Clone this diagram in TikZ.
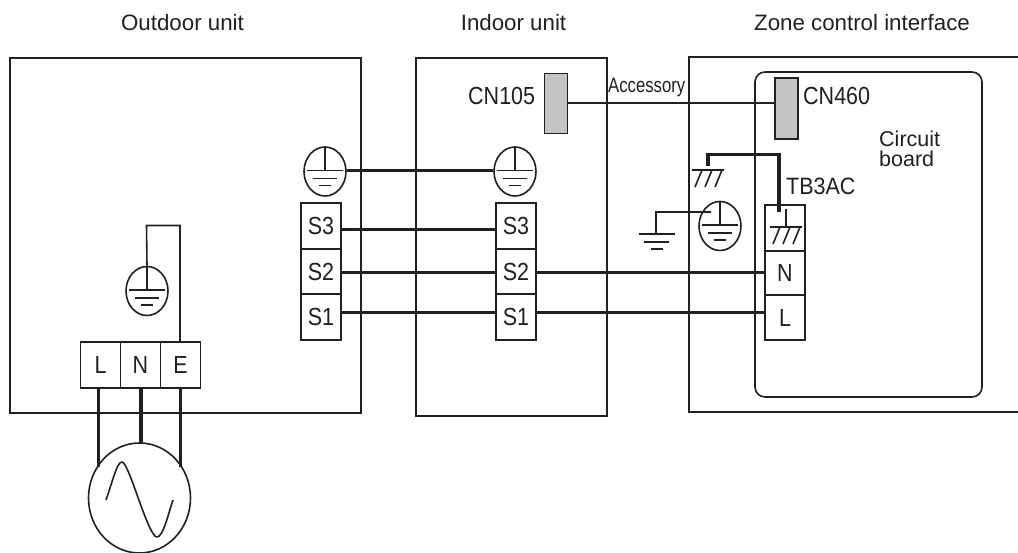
\documentclass[tikz,border=0pt]{standalone}
\usepackage{fontspec}
\setmainfont{Liberation Sans}
\usetikzlibrary{shapes.geometric}
\definecolor{ink}{HTML}{231F20}
\definecolor{plug}{HTML}{C4C4C4}
\newcommand{\tall}[1]{\scalebox{1}[1.15]{#1}}
\tikzset{
  x=1pt,y=-1pt,
  thinln/.style={draw=ink,line width=1.6pt},
  wire/.style={draw=ink,line width=3.7pt},
  unitbox/.style={draw=ink,line width=1.6pt,inner sep=0pt,fill=none,anchor=north west},
  term/.style={draw=ink,line width=1.6pt,inner sep=0pt,minimum width=40pt,text=ink,font=\fontsize{21.5}{21.5}\selectfont},
  plugbox/.style={draw=ink,line width=1.6pt,fill=plug,inner sep=0pt,minimum width=23pt,minimum height=60pt},
  earthc/.style={draw=ink,line width=1.6pt,ellipse,inner sep=0pt,minimum width=42pt,minimum height=49pt},
  lbl/.style={text=ink,inner sep=0pt,font=\fontsize{21.5}{20}\selectfont},
  title/.style={lbl,font=\fontsize{22.3}{24}\selectfont}
}
\newcommand{\earthsym}[1]{%
  \draw[thinln] (#1.north) -- ++(0,24);
  \draw[thinln] ([shift={(-18,-1)}]#1.center) -- ([shift={(18,-1)}]#1.center);
  \draw[thinln] ([shift={(-12,7)}]#1.center) -- ([shift={(12,7)}]#1.center);
  \draw[thinln] ([shift={(-6,14)}]#1.center) -- ([shift={(6,14)}]#1.center);
}
\newcommand{\chassis}[1]{%
  \draw[thinln] ([shift={(-16,0)}]#1) -- ([shift={(16,0)}]#1);
  \draw[thinln] ([shift={(-6,0)}]#1) -- ([shift={(-13,17)}]#1);
  \draw[thinln] ([shift={(4,0)}]#1) -- ([shift={(-3,17)}]#1);
  \draw[thinln] ([shift={(14,0)}]#1) -- ([shift={(7,17)}]#1);
}
\begin{document}
\begin{tikzpicture}
\useasboundingbox (0,0) rectangle (1018,553);
\begin{scope}
\clip (0,0) rectangle (1018,553);
% unit frames
\node[unitbox,minimum width=351pt,minimum height=355.5pt] (outdoor) at (9,57) {};
\node[unitbox,minimum width=191pt,minimum height=358pt] (indoor) at (415,57) {};
\draw[thinln] (1018,57) -- (689,57) -- (689,412) -- (1018,412);
\draw[thinln,rounded corners=10pt] (755,72) rectangle (982,397);
% titles
\node[title] (t1) at (182.5,22.5) {Outdoor unit};
\node[title] (t2) at (513.5,22.5) {Indoor unit};
\node[title] (t3) at (862,22.5) {Zone control interface};
% plugs
\node[plugbox] (cn105) at (556,103.5) {};
\node[plugbox,minimum height=61pt] (cn460) at (786.5,108.5) {};
\node[lbl,anchor=west] (l105) at (468,96) {\tall{CN105}};
\node[lbl,anchor=west] (l460) at (803,96) {\tall{CN460}};
\node[lbl,anchor=base west,font=\fontsize{16.7}{16}\selectfont] (acc) at (608,93) {\scalebox{1}[1.25]{Accessory}};
\node[lbl,anchor=base west] (cb1) at (879,146.5) {Circuit};
\node[lbl,anchor=base west] (cb2) at (879,166.5) {board};
\node[lbl,anchor=west] (ltb) at (786,186.5) {\scalebox{1}[1.1]{TB3AC}};
\draw[thinln] (cn105.east |- 0,103.3) -- (cn460.west |- 0,103.3);
% terminals
\node[term,minimum height=46pt] (a3) at (321,226) {\tall{S3}};
\node[term,minimum height=45pt] (a2) at (321,271.5) {\tall{S2}};
\node[term,minimum height=46pt] (a1) at (321,317) {\tall{S1}};
\node[term,minimum height=46pt] (b3) at (516,226) {\tall{S3}};
\node[term,minimum height=45pt] (b2) at (516,271.5) {\tall{S2}};
\node[term,minimum height=46pt] (b1) at (516,317) {\tall{S1}};
\node[term,minimum height=46pt] (tg) at (785,228) {};
\node[term,minimum height=44pt] (tn) at (785,273) {\tall{N}};
\node[term,minimum height=45pt] (tl) at (785,317.5) {\tall{L}};
\node[term,minimum height=46pt] (pl) at (100.5,365) {\tall{L}};
\node[term,minimum height=46pt] (pn) at (140.5,365) {\tall{N}};
\node[term,minimum height=46pt] (pe) at (180.5,365) {\tall{E}};
% earth symbols
\node[earthc] (ea) at (325,171.5) {};
\node[earthc] (eb) at (515,171.5) {};
\node[earthc] (ec) at (720,226) {};
\node[earthc] (ed) at (147,291) {};
\earthsym{ea} \earthsym{eb} \earthsym{ec} \earthsym{ed}
% thick wires
\draw[wire] ([yshift=1pt]ea.east) -- ([yshift=1pt]eb.west);
\draw[wire] ([yshift=-3.5pt]a3.east) -- ([yshift=-3.5pt]b3.west);
\draw[wire] ([yshift=-1pt]a2.east) -- ([yshift=-1pt]b2.west);
\draw[wire] ([yshift=4.5pt]a1.east) -- ([yshift=4.5pt]b1.west);
\draw[wire] ([yshift=-1pt]b2.east) -- ([yshift=0.5pt]tn.west);
\draw[wire] ([yshift=4.5pt]b1.east) -- ([yshift=5pt]tl.west);
% chassis ground with thick link
\coordinate (cg) at (708,170);
\coordinate (tgin) at (779,212);
\coordinate (tgc) at (786,227);
\draw[wire,line join=miter] (708,166) -- (708,154.5) -- (779,154.5) -- (tgin);
\chassis{cg}
\draw[thinln] (786,209) -- (tgc);
\chassis{tgc}
% protective earth to ground symbol
\coordinate (gnd) at (656,234);
\coordinate (ecin) at (711,212);
\draw[thinln] (ecin) -- (656,212) -- (gnd);
\draw[thinln] (639,234) -- (675,234);
\draw[thinln] (644,242) -- (669,242);
\draw[thinln] (651,249) -- (663,249);
% supply
\node[ellipse,draw=ink,line width=1.6pt,minimum width=102pt,minimum height=110pt,inner sep=0pt] (ac) at (139.5,498) {};
\coordinate (ll) at (98.5,467);
\coordinate (mm) at (141,444);
\coordinate (ee) at (180.5,467);
\draw[wire] (pl.south -| ll) -- (ll);
\draw[wire] (pn.south -| mm) -- (mm);
\draw[wire] (pe.south -| ee) -- (ee);
\draw[thinln,line join=round] (106,500) .. controls (113,480) and (117,462) .. (122,462)
  .. controls (129,462) and (148,537) .. (157,537) .. controls (163,537) and (168,515) .. (173,500);
\draw[thinln] (ed.north) -- (146.5,225.5) -- (180,225.5) -- (pe.north -| 180,0);
\end{scope}
\end{tikzpicture}
\end{document}
